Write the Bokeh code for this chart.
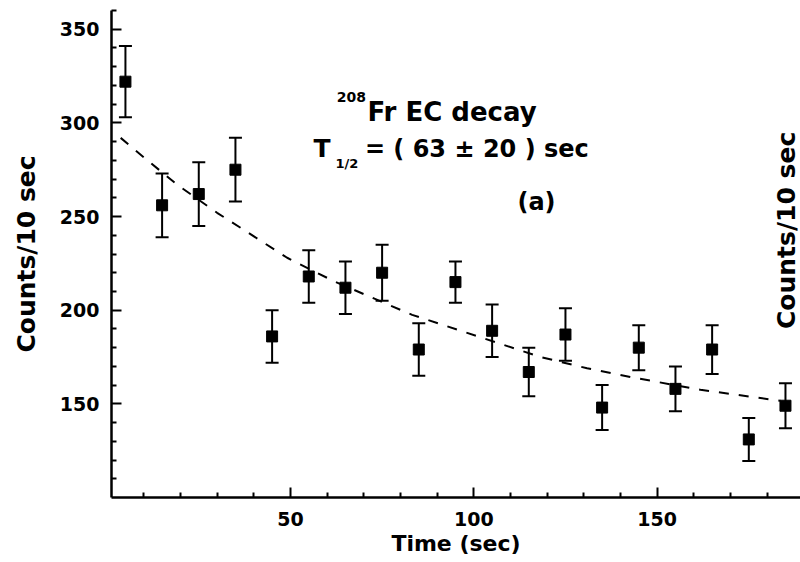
import math
from bokeh.plotting import figure
from bokeh.models import (ColumnDataSource, Whisker, TeeHead, Label, FixedTicker, Range1d)
from bokeh.embed import file_html
from bokeh.resources import INLINE

# ---- data ----
time_s = [5, 15, 25, 35, 45, 55, 65, 75, 85, 95, 105, 115, 125, 135, 145, 155, 165, 175, 185]
counts = [322, 256, 262, 275, 186, 218, 212, 220, 179, 215, 189, 167, 187, 148, 180, 158, 179, 131, 149]
errors = [19, 17, 17, 17, 14, 14, 14, 15, 14, 11, 14, 13, 14, 12, 12, 12, 13, 11.5, 12]

fit_time = [3.7, 7.3, 19.1, 30.0, 36.4, 49.1, 61.8, 83.2, 102.7, 118.2, 130.9, 143.6, 161.8, 183.6]
fit_counts = [292, 286, 267, 252, 244, 228, 215.5, 197.5, 185, 175, 169, 164, 157.5, 151.6]

x_major_ticks = [50, 100, 150]
x_minor_ticks = [10, 20, 30, 40, 60, 70, 80, 90, 110, 120, 130, 140, 160, 170, 180]
y_major_ticks = [150, 200, 250, 300, 350]
y_minor_ticks = [110, 120, 130, 140, 160, 170, 180, 190, 210, 220, 230, 240,
                 260, 270, 280, 290, 310, 320, 330, 340, 360]

title_line1 = "Fr EC decay"
title_sup = "208"
title_line2_main = "= ( 63 ± 20 ) sec"
panel_tag = "(a)"
x_label = "Time (sec)"
y_label = "Counts/10 sec"

FONT = "DejaVu Sans"

p = figure(width=800, height=562, output_backend="svg", toolbar_location=None,
           x_range=Range1d(1.2, 189.1), y_range=Range1d(100, 360),
           min_border_left=111, min_border_right=0, min_border_top=10, min_border_bottom=65)
p.outline_line_color = None
p.xgrid.visible = False
p.ygrid.visible = False
p.background_fill_color = "white"
p.border_fill_color = "white"

src = ColumnDataSource(dict(t=time_s, c=counts,
                            upper=[c + e for c, e in zip(counts, errors)],
                            lower=[c - e for c, e in zip(counts, errors)]))

# fit curve
p.line(fit_time, fit_counts, line_color="black", line_width=2, line_dash="10 10")

# error bars
w = Whisker(base="t", upper="upper", lower="lower", source=src, line_color="black", line_width=2,
            upper_head=TeeHead(size=13, line_color="black", line_width=2),
            lower_head=TeeHead(size=13, line_color="black", line_width=2))
p.add_layout(w)

p.scatter("t", "c", source=src, marker="square", size=11, color="black")

# axes
for ax in (p.xaxis[0], p.yaxis[0]):
    ax.axis_line_width = 2.5
    ax.axis_line_color = "black"
    ax.major_tick_line_width = 2
    ax.minor_tick_line_width = 2
    ax.major_tick_in = 10
    ax.major_tick_out = 0
    ax.minor_tick_in = 5
    ax.minor_tick_out = 0
    ax.major_label_text_font = FONT
    ax.major_label_text_font_style = "bold"
    ax.major_label_text_font_size = "19px"
    ax.major_label_text_color = "black"
    ax.axis_label_text_font = FONT
    ax.axis_label_text_font_style = "bold"
    ax.axis_label_text_color = "black"

p.xaxis[0].ticker = FixedTicker(ticks=x_major_ticks, minor_ticks=x_minor_ticks)
p.yaxis[0].ticker = FixedTicker(ticks=y_major_ticks, minor_ticks=y_minor_ticks)
p.xaxis[0].major_label_standoff = 14
p.yaxis[0].major_label_standoff = 12
p.xaxis[0].axis_label = x_label
p.xaxis[0].axis_label_text_font_size = "22px"
p.xaxis[0].axis_label_standoff = 2
p.yaxis[0].axis_label = y_label
p.yaxis[0].axis_label_text_font_size = "25px"
p.yaxis[0].axis_label_standoff = 16


def lab(x, y, text, size, **kw):
    p.add_layout(Label(x=x, y=y, text=text, text_font=FONT, text_font_style="bold",
                       text_font_size=size, text_color="black", **kw))


lab(70.6, 313.7, title_sup, "14px", text_align="right", text_baseline="alphabetic")
lab(71.0, 305.7, title_line1, "26px", text_align="left", text_baseline="alphabetic")
lab(56.3, 286.2, "T", "25px", text_align="left", text_baseline="alphabetic")
lab(62.3, 278.2, "1/2", "13px", text_align="left", text_baseline="alphabetic")
lab(70.3, 286.2, title_line2_main, "24px", text_align="left", text_baseline="alphabetic")
lab(111.9, 257.5, panel_tag, "24px", text_align="left", text_baseline="alphabetic")
# label of the neighbouring panel, cut at the right edge
lab(185.4, 242.6, y_label, "25px", text_align="center", text_baseline="middle", angle=math.pi / 2)

open("out.html", "w").write(file_html(p, INLINE))
